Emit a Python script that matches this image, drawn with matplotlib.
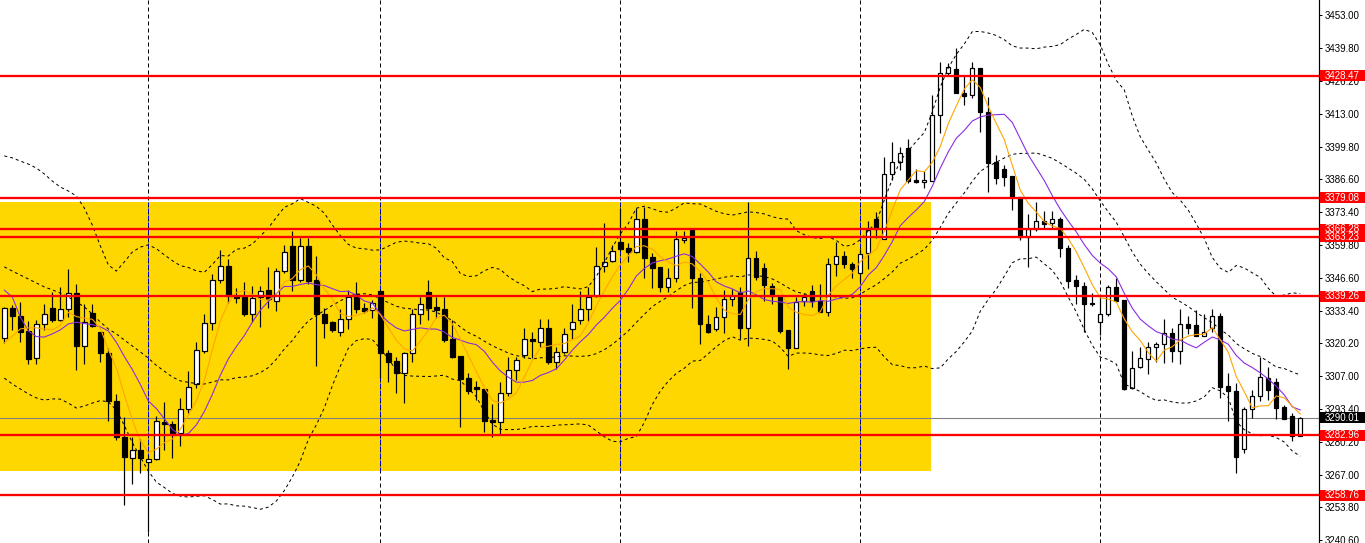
import numpy as np
import matplotlib
matplotlib.use('Agg')
import matplotlib.pyplot as plt
from matplotlib.patches import Rectangle
from matplotlib.transforms import blended_transform_factory

# ---------------- data ----------------
opens = [3322.2, 3334.3, 3331.3, 3325.0, 3314.1, 3327.9, 3334.3, 3329.6, 3333.9, 3340.4,
         3319.2, 3332.3, 3324.9, 3316.4, 3297.0, 3282.2, 3273.7, 3276.9, 3272.0, 3273.3,
         3288.5, 3287.4, 3284.0, 3293.5, 3303.6, 3317.2, 3328.3, 3345.8, 3351.5, 3339.4,
         3339.0, 3331.9, 3338.8, 3341.7, 3337.3, 3349.6, 3359.5, 3345.8, 3359.5, 3345.8,
         3332.0, 3328.7, 3324.6, 3329.9, 3340.1, 3334.3, 3333.7, 3341.3, 3316.4, 3313.0,
         3308.3, 3316.1, 3331.9, 3340.8, 3335.0, 3333.9, 3321.9, 3315.0, 3306.0, 3302.4,
         3301.7, 3289.1, 3288.5, 3300.0, 3309.4, 3315.4, 3321.9, 3320.8, 3326.2, 3312.5,
         3316.8, 3325.8, 3329.6, 3333.9, 3339.2, 3351.6, 3353.5, 3361.0, 3358.9, 3357.2,
         3370.3, 3355.0, 3350.9, 3342.8, 3346.5, 3362.0, 3366.0, 3346.5, 3328.0, 3325.8,
         3330.7, 3338.1, 3341.1, 3326.5, 3354.6, 3350.8, 3343.5, 3339.4, 3325.6, 3318.4,
         3337.3, 3341.3, 3337.3, 3333.0, 3352.1, 3355.5, 3352.3, 3348.7, 3356.6, 3370.5,
         3362.4, 3388.6, 3393.4, 3399.1, 3386.2, 3385.4, 3386.0, 3412.5, 3429.4, 3431.2,
         3421.6, 3420.6, 3431.4, 3413.6, 3393.4, 3390.6, 3387.9, 3379.5, 3363.3, 3366.3,
         3369.8, 3369.0, 3370.5, 3358.6, 3345.8, 3343.5, 3336.4, 3328.9, 3331.9, 3342.8,
         3337.7, 3302.0, 3310.5, 3313.8, 3318.6, 3319.8, 3324.2, 3317.2, 3327.9, 3327.6,
         3323.3, 3326.5, 3331.2, 3302.9, 3300.9, 3277.4, 3293.6, 3299.0, 3306.0, 3304.4,
         3294.5, 3290.9, 3282.8]
highs = [3335.0, 3335.7, 3336.8, 3329.3, 3329.6, 3336.1, 3341.1, 3343.1, 3350.2, 3344.2,
         3336.1, 3336.1, 3324.9, 3318.2, 3299.5, 3290.5, 3282.4, 3281.3, 3275.0, 3290.9,
         3296.3, 3288.7, 3297.9, 3309.1, 3320.6, 3332.0, 3348.2, 3357.9, 3354.3, 3342.4,
         3344.9, 3343.5, 3343.5, 3351.2, 3350.5, 3360.0, 3365.7, 3362.7, 3362.7, 3355.5,
         3334.3, 3329.3, 3333.9, 3341.7, 3344.9, 3336.6, 3337.7, 3341.3, 3317.5, 3314.5,
         3316.8, 3333.9, 3339.0, 3345.8, 3339.0, 3339.0, 3329.6, 3315.0, 3308.0, 3304.9,
         3301.7, 3295.6, 3304.6, 3314.5, 3314.8, 3326.5, 3324.6, 3329.9, 3330.0, 3318.8,
         3326.5, 3336.0, 3341.5, 3343.1, 3359.0, 3369.0, 3360.0, 3374.8, 3360.6, 3374.8,
         3375.4, 3356.6, 3350.9, 3350.5, 3365.7, 3365.7, 3366.0, 3348.7, 3331.7, 3334.7,
         3341.7, 3342.0, 3343.1, 3377.2, 3357.5, 3352.5, 3344.5, 3339.4, 3325.6, 3339.0,
         3340.4, 3343.8, 3344.0, 3354.6, 3361.3, 3357.5, 3353.0, 3358.3, 3369.8, 3373.3,
         3395.7, 3401.5, 3399.7, 3402.8, 3390.6, 3390.0, 3420.6, 3433.9, 3433.5, 3439.5,
         3428.7, 3433.9, 3431.4, 3419.9, 3396.4, 3392.3, 3387.9, 3379.5, 3372.4, 3377.2,
         3373.7, 3373.7, 3371.2, 3360.0, 3347.8, 3344.9, 3340.4, 3339.0, 3343.8, 3346.5,
         3337.7, 3317.1, 3318.8, 3320.6, 3320.6, 3329.9, 3326.2, 3334.1, 3331.2, 3333.7,
         3331.9, 3334.1, 3332.6, 3308.3, 3304.2, 3294.5, 3301.3, 3314.5, 3310.7, 3306.0,
         3295.2, 3291.9, 3290.5]
lows = [3320.4, 3325.6, 3320.8, 3311.7, 3311.7, 3325.6, 3328.9, 3329.3, 3330.9, 3309.4,
        3311.7, 3326.9, 3312.7, 3288.9, 3281.1, 3254.8, 3263.1, 3267.8, 3243.8, 3272.9,
        3277.0, 3273.9, 3278.8, 3291.9, 3302.2, 3316.4, 3325.6, 3344.5, 3336.6, 3336.6,
        3331.3, 3328.7, 3326.9, 3334.6, 3333.4, 3348.5, 3341.5, 3344.9, 3344.2, 3311.0,
        3322.4, 3324.6, 3323.1, 3325.8, 3332.3, 3332.3, 3330.5, 3306.3, 3304.6, 3300.2,
        3295.9, 3312.5, 3328.0, 3329.6, 3330.5, 3320.6, 3314.1, 3286.4, 3299.5, 3297.2,
        3284.4, 3282.2, 3283.1, 3299.0, 3305.3, 3314.4, 3314.1, 3318.8, 3311.7, 3309.8,
        3315.7, 3321.9, 3328.0, 3329.3, 3339.0, 3349.1, 3353.2, 3357.5, 3353.2, 3356.6,
        3346.7, 3342.4, 3341.1, 3341.1, 3345.1, 3360.6, 3334.3, 3319.8, 3324.2, 3325.3,
        3324.5, 3335.3, 3321.8, 3319.2, 3345.8, 3337.3, 3336.0, 3324.5, 3309.7, 3318.4,
        3335.3, 3335.0, 3332.7, 3331.2, 3347.4, 3350.5, 3346.5, 3344.9, 3350.2, 3362.8,
        3362.4, 3386.2, 3390.3, 3384.9, 3384.9, 3383.1, 3385.8, 3405.1, 3428.4, 3421.3,
        3416.6, 3419.3, 3405.8, 3381.5, 3384.6, 3383.9, 3374.1, 3362.0, 3351.2, 3365.6,
        3366.9, 3366.7, 3355.2, 3342.7, 3336.0, 3324.6, 3335.3, 3323.5, 3331.3, 3337.4,
        3301.3, 3301.7, 3310.1, 3307.6, 3312.5, 3312.1, 3312.5, 3311.7, 3323.9, 3323.3,
        3323.1, 3324.6, 3297.9, 3288.9, 3267.6, 3275.7, 3290.1, 3296.8, 3297.2, 3289.6,
        3289.5, 3280.8, 3282.8]
closes = [3334.3, 3331.3, 3324.9, 3313.8, 3327.9, 3331.9, 3329.6, 3333.9, 3340.4, 3319.2,
          3328.7, 3327.3, 3316.1, 3297.0, 3282.2, 3274.1, 3276.9, 3273.7, 3273.3, 3288.7,
          3287.4, 3284.0, 3293.5, 3302.4, 3317.5, 3328.3, 3345.8, 3351.6, 3339.4, 3338.6,
          3331.9, 3338.4, 3341.5, 3338.0, 3349.6, 3357.0, 3345.8, 3359.5, 3345.5, 3331.9,
          3328.5, 3325.6, 3329.9, 3339.0, 3334.1, 3333.4, 3336.6, 3316.1, 3312.7, 3308.3,
          3316.1, 3331.9, 3336.0, 3334.6, 3333.7, 3321.5, 3314.5, 3305.6, 3301.0, 3301.6,
          3288.9, 3288.5, 3300.0, 3309.4, 3313.4, 3321.8, 3321.1, 3326.2, 3312.5, 3316.8,
          3323.8, 3328.9, 3333.9, 3339.0, 3351.6, 3353.2, 3357.5, 3358.3, 3357.2, 3370.3,
          3354.8, 3350.8, 3343.1, 3346.5, 3362.4, 3362.9, 3346.5, 3327.9, 3324.6, 3330.7,
          3338.1, 3339.4, 3326.5, 3354.6, 3346.9, 3343.8, 3339.4, 3325.2, 3318.4, 3337.0,
          3339.0, 3337.3, 3333.0, 3352.1, 3355.5, 3352.1, 3350.2, 3356.2, 3366.0, 3366.4,
          3388.6, 3393.4, 3397.0, 3385.8, 3385.4, 3386.2, 3412.5, 3429.4, 3431.8, 3421.3,
          3420.3, 3431.4, 3413.6, 3393.2, 3387.2, 3387.6, 3379.5, 3363.3, 3366.3, 3369.8,
          3368.3, 3370.3, 3358.6, 3345.5, 3343.5, 3336.0, 3336.0, 3331.9, 3343.1, 3337.4,
          3301.7, 3310.3, 3314.1, 3318.6, 3319.9, 3324.2, 3317.2, 3327.9, 3326.2, 3323.3,
          3324.6, 3331.2, 3302.6, 3301.0, 3274.3, 3293.6, 3299.0, 3306.4, 3301.3, 3294.1,
          3289.6, 3282.8, 3290.01]

# indicator values for the first bars (history before the visible window)
sma5_head = [3320.3, 3323.1, 3326.0, 3326.4]
sma10_head = [3341.7, 3338.9, 3330.8, 3325.2, 3322.9, 3322.7, 3324.0, 3325.6, 3328.0]
bb_mid_head = [3351.1, 3349.4, 3347.8, 3346.2, 3344.6, 3343.0, 3341.8, 3340.5, 3338.9, 3336.9,
               3334.9, 3332.0, 3328.8, 3326.0, 3324.0, 3321.5, 3319.1, 3316.7, 3314.2]
bb_up_head = [3396.0, 3395.2, 3393.9, 3392.7, 3391.1, 3388.7, 3385.8, 3383.4, 3381.8, 3379.8,
              3374.9, 3368.0, 3359.6, 3351.9, 3349.4, 3353.1, 3357.1, 3359.1, 3360.0]
bb_lo_head = [3306.1, 3303.7, 3301.7, 3299.7, 3298.1, 3297.2, 3297.7, 3297.6, 3296.0, 3294.0,
              3294.8, 3296.0, 3297.0, 3296.5, 3293.2, 3287.0, 3280.0, 3274.2, 3268.5]

level_lines = [3428.47, 3379.08, 3366.28, 3363.23, 3339.26, 3282.96, 3258.76]
current_price = 3290.01
tick_values = [3453.00, 3439.80, 3426.20, 3413.00, 3399.80, 3386.60, 3373.40, 3359.80,
               3346.60, 3333.40, 3320.20, 3307.00, 3293.40, 3280.20, 3267.00, 3253.80, 3240.60]
zone_top, zone_bottom = 3377.4, 3268.7
zone_end_bar = 115.84
separator_bars = [18, 47, 77, 107, 137]

# ---------------- indicators ----------------
o = np.array(opens); h = np.array(highs); l = np.array(lows); c = np.array(closes)
n = len(c)
idx = np.arange(n)


def sma(vals, period, head):
    out = np.empty(len(vals))
    out[:len(head)] = head
    for i in range(len(head), len(vals)):
        out[i] = vals[i - period + 1:i + 1].mean()
    return out


ma5 = sma(c, 5, sma5_head)
ma10 = sma(c, 10, sma10_head)
bb_mid = np.empty(n); bb_up = np.empty(n); bb_lo = np.empty(n)
hl = len(bb_mid_head)
bb_mid[:hl] = bb_mid_head; bb_up[:hl] = bb_up_head; bb_lo[:hl] = bb_lo_head
for i in range(hl, n):
    w = c[i - 19:i + 1]
    m, s = w.mean(), w.std()
    bb_mid[i] = m; bb_up[i] = m + 2 * s; bb_lo[i] = m - 2 * s

# ---------------- figure ----------------
W, H = 1365, 543
plot_w = 1319
fig = plt.figure(figsize=(W / 100, H / 100), dpi=100)
fig.patch.set_facecolor('white')
ax = fig.add_axes([0, 0, plot_w / W, 1])
ax.set_facecolor('white')
ax.set_xlim(-0.54, 164.34)
ax.set_ylim(3239.39, 3459.07)

px = 0.72  # one pixel in points

# zone
ax.add_patch(Rectangle((-0.6, zone_bottom), zone_end_bar + 0.6, zone_top - zone_bottom,
                       facecolor='#FFD700', edgecolor='none', zorder=0.5))

# period separators
for gx in separator_bars:
    ax.axvline(gx, color='black', lw=px, ls=(0, (4, 3)), zorder=0.6)
    if gx <= zone_end_bar:
        ax.plot([gx, gx], [zone_bottom, zone_top], color='#0000FF', lw=px,
                ls=(0, (4, 3)), zorder=0.7)

# current price line
ax.axhline(current_price, color='#808080', lw=px * 1.1, zorder=1)

# candles
up = c >= o
ax.vlines(idx, l, h, color='black', lw=px * 1.2, zorder=3)
ax.bar(idx[up], np.maximum((c - o)[up], 0.05), bottom=o[up], width=0.55,
       color='white', edgecolor='black', lw=px * 1.2, zorder=4)
ax.bar(idx[~up], np.maximum((o - c)[~up], 0.05), bottom=c[~up], width=0.55,
       color='black', edgecolor='black', lw=px * 1.2, zorder=4)

# bollinger bands (dotted black)
for band in (bb_up, bb_mid, bb_lo):
    ax.plot(idx, band, color='black', lw=px, ls=(0, (3, 3)), zorder=5)

# moving averages
ax.plot(idx, ma10, color='#8A2BE2', lw=px * 1.1, zorder=5.5)
ax.plot(idx, ma5, color='#FFA500', lw=px * 1.1, zorder=5.6)

# level lines
for v in level_lines:
    ax.axhline(v, color='#FF0000', lw=px * 2.3, zorder=6)

# axes styling
for s in ('top', 'left', 'bottom'):
    ax.spines[s].set_visible(False)
ax.spines['right'].set_color('black')
ax.spines['right'].set_linewidth(px * 1.2)
ax.xaxis.set_visible(False)
ax.yaxis.tick_right()
ax.set_yticks(tick_values)
ax.set_yticklabels([f"{v:.2f}" for v in tick_values])
ax.tick_params(axis='y', direction='out', length=3 * px, width=px, pad=3 * px,
               labelsize=7, colors='black')
for t in ax.get_yticklabels():
    t.set_fontfamily(['Liberation Sans', 'DejaVu Sans'])

# price labels on the right
tr = blended_transform_factory(ax.transAxes, ax.transData)
box_h = 11 / (H / (3459.07 - 3239.39))


def price_tag(v, face):
    ax.add_patch(Rectangle((1 + 1.5 / plot_w, v - box_h / 2), 46 / plot_w, box_h,
                           transform=tr, facecolor=face, edgecolor='none',
                           clip_on=False, zorder=10))
    ax.text(1 + 6 / plot_w, v, f"{v:.2f}", transform=tr, color='white', fontsize=7,
            family=['Liberation Sans', 'DejaVu Sans'], va='center', ha='left',
            clip_on=False, zorder=11)


for v in level_lines:
    price_tag(v, '#FF0000')
price_tag(current_price, 'black')

fig.savefig('out.png', dpi=100)
